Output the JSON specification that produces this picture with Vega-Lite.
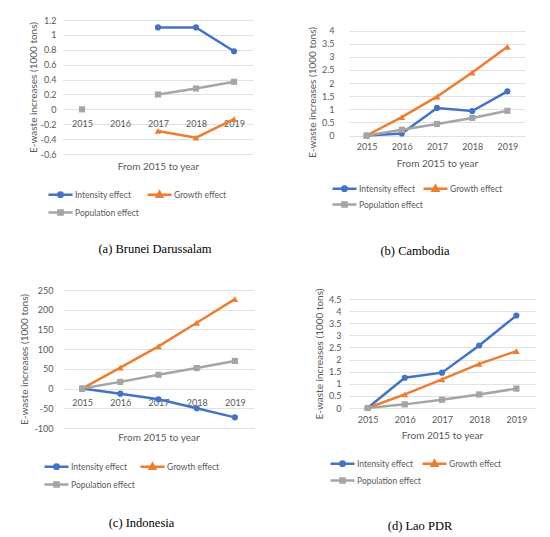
{
  "$schema": "https://vega.github.io/schema/vega-lite/v6.json",
  "padding": {"left": 19, "top": 16, "right": 4, "bottom": 4},
  "background": "white",
  "config": {
    "view": {"stroke": null},
    "font": "Lato",
    "axis": {"labelFont": "Lato", "labelFontSize": 9, "labelColor": "#595959", "titleFont": "Lato", "titleFontSize": 10, "titleColor": "#595959", "titleFontWeight": "normal", "gridColor": "#d9d9d9", "gridWidth": 0.8, "domain": false, "ticks": false},
    "axisX": {"labelAngle": 0, "labelPadding": 7, "grid": false},
    "legend": {"labelFont": "Lato", "labelFontSize": 8.5, "labelColor": "#595959", "orient": "none", "columns": 2, "symbolSize": 100, "symbolStrokeWidth": 2.5, "symbolOpacity": 1, "labelOffset": 8, "padding": 0},
    "title": {"font": "Liberation Serif", "fontSize": 12.5, "fontWeight": "normal", "color": "#000000"},
    "point": {"filled": true, "opacity": 1, "size": 38}
  },
  "data": {
    "values": [
      {"country": "Brunei", "series": "Intensity effect", "year": "2015", "value": null},
      {"country": "Brunei", "series": "Intensity effect", "year": "2016", "value": null},
      {"country": "Brunei", "series": "Intensity effect", "year": "2017", "value": 1.10},
      {"country": "Brunei", "series": "Intensity effect", "year": "2018", "value": 1.10},
      {"country": "Brunei", "series": "Intensity effect", "year": "2019", "value": 0.78},
      {"country": "Brunei", "series": "Growth effect", "year": "2015", "value": null},
      {"country": "Brunei", "series": "Growth effect", "year": "2016", "value": null},
      {"country": "Brunei", "series": "Growth effect", "year": "2017", "value": -0.29},
      {"country": "Brunei", "series": "Growth effect", "year": "2018", "value": -0.38},
      {"country": "Brunei", "series": "Growth effect", "year": "2019", "value": -0.13},
      {"country": "Brunei", "series": "Population effect", "year": "2015", "value": 0},
      {"country": "Brunei", "series": "Population effect", "year": "2016", "value": null},
      {"country": "Brunei", "series": "Population effect", "year": "2017", "value": 0.20},
      {"country": "Brunei", "series": "Population effect", "year": "2018", "value": 0.28},
      {"country": "Brunei", "series": "Population effect", "year": "2019", "value": 0.37},
      {"country": "Cambodia", "series": "Intensity effect", "year": "2015", "value": 0},
      {"country": "Cambodia", "series": "Intensity effect", "year": "2016", "value": 0.08},
      {"country": "Cambodia", "series": "Intensity effect", "year": "2017", "value": 1.05},
      {"country": "Cambodia", "series": "Intensity effect", "year": "2018", "value": 0.93},
      {"country": "Cambodia", "series": "Intensity effect", "year": "2019", "value": 1.68},
      {"country": "Cambodia", "series": "Growth effect", "year": "2015", "value": 0},
      {"country": "Cambodia", "series": "Growth effect", "year": "2016", "value": 0.70},
      {"country": "Cambodia", "series": "Growth effect", "year": "2017", "value": 1.48},
      {"country": "Cambodia", "series": "Growth effect", "year": "2018", "value": 2.40},
      {"country": "Cambodia", "series": "Growth effect", "year": "2019", "value": 3.38},
      {"country": "Cambodia", "series": "Population effect", "year": "2015", "value": 0},
      {"country": "Cambodia", "series": "Population effect", "year": "2016", "value": 0.22},
      {"country": "Cambodia", "series": "Population effect", "year": "2017", "value": 0.44},
      {"country": "Cambodia", "series": "Population effect", "year": "2018", "value": 0.67},
      {"country": "Cambodia", "series": "Population effect", "year": "2019", "value": 0.94},
      {"country": "Indonesia", "series": "Intensity effect", "year": "2015", "value": 0},
      {"country": "Indonesia", "series": "Intensity effect", "year": "2016", "value": -13},
      {"country": "Indonesia", "series": "Intensity effect", "year": "2017", "value": -27},
      {"country": "Indonesia", "series": "Intensity effect", "year": "2018", "value": -50},
      {"country": "Indonesia", "series": "Intensity effect", "year": "2019", "value": -73},
      {"country": "Indonesia", "series": "Growth effect", "year": "2015", "value": 0},
      {"country": "Indonesia", "series": "Growth effect", "year": "2016", "value": 53},
      {"country": "Indonesia", "series": "Growth effect", "year": "2017", "value": 107},
      {"country": "Indonesia", "series": "Growth effect", "year": "2018", "value": 167},
      {"country": "Indonesia", "series": "Growth effect", "year": "2019", "value": 227},
      {"country": "Indonesia", "series": "Population effect", "year": "2015", "value": 0},
      {"country": "Indonesia", "series": "Population effect", "year": "2016", "value": 17},
      {"country": "Indonesia", "series": "Population effect", "year": "2017", "value": 35},
      {"country": "Indonesia", "series": "Population effect", "year": "2018", "value": 52},
      {"country": "Indonesia", "series": "Population effect", "year": "2019", "value": 70},
      {"country": "Lao", "series": "Intensity effect", "year": "2015", "value": 0},
      {"country": "Lao", "series": "Intensity effect", "year": "2016", "value": 1.25},
      {"country": "Lao", "series": "Intensity effect", "year": "2017", "value": 1.46},
      {"country": "Lao", "series": "Intensity effect", "year": "2018", "value": 2.58},
      {"country": "Lao", "series": "Intensity effect", "year": "2019", "value": 3.82},
      {"country": "Lao", "series": "Growth effect", "year": "2015", "value": 0},
      {"country": "Lao", "series": "Growth effect", "year": "2016", "value": 0.56},
      {"country": "Lao", "series": "Growth effect", "year": "2017", "value": 1.18},
      {"country": "Lao", "series": "Growth effect", "year": "2018", "value": 1.82},
      {"country": "Lao", "series": "Growth effect", "year": "2019", "value": 2.35},
      {"country": "Lao", "series": "Population effect", "year": "2015", "value": 0},
      {"country": "Lao", "series": "Population effect", "year": "2016", "value": 0.15},
      {"country": "Lao", "series": "Population effect", "year": "2017", "value": 0.34},
      {"country": "Lao", "series": "Population effect", "year": "2018", "value": 0.56},
      {"country": "Lao", "series": "Population effect", "year": "2019", "value": 0.80}
    ]
  },
  "spacing": 53,
  "resolve": {"scale": {"color": "independent", "fill": "independent", "stroke": "independent", "shape": "independent"}, "legend": {"fill": "independent", "stroke": "independent", "shape": "independent"}},
  "hconcat": [
    {
      "spacing": 30,
      "resolve": {"scale": {"color": "independent", "fill": "independent", "stroke": "independent", "shape": "independent"}, "legend": {"fill": "independent", "stroke": "independent", "shape": "independent"}},
      "vconcat": [
        {
          "width": 190, "height": 134,
          "transform": [{"filter": "datum.country === 'Brunei'"}],
          "title": {"text": "(a) Brunei Darussalam", "orient": "bottom", "frame": "group", "dx": -3, "offset": 23},
          "encoding": {
            "x": {"field": "year", "type": "ordinal", "scale": {"type": "point", "padding": 0.5}, "axis": {"offset": -44.67, "labelPadding": 10.5, "title": "From 2015 to year", "titlePadding": 32.5}},
            "y": {"field": "value", "type": "quantitative", "scale": {"domain": [-0.6, 1.2], "nice": false, "zero": false}, "axis": {"values": [-0.6, -0.4, -0.2, 0, 0.2, 0.4, 0.6, 0.8, 1, 1.2], "labelExpr": "'' + datum.value", "title": "E-waste increases (1000 tons)", "titlePadding": 2, "labelPadding": 7}}
          },
          "layer": [
            {"mark": {"type": "line", "strokeWidth": 2.5, "invalid": "break-paths-show-domains"}, "encoding": {"color": {"field": "series", "type": "nominal", "scale": {"domain": ["Intensity effect", "Growth effect", "Population effect"], "range": ["#4472C4", "#ED7D31", "#A5A5A5"]}, "legend": null}}},
            {"transform": [{"filter": "datum.series === 'Intensity effect'"}], "mark": {"type": "point", "shape": "circle"}, "encoding": {"color": {"field": "series", "type": "nominal", "legend": null}}},
            {"transform": [{"filter": "datum.series === 'Growth effect'"}], "mark": {"type": "point", "shape": "triangle-up", "size": 45}, "encoding": {"color": {"field": "series", "type": "nominal", "legend": null}}},
            {"transform": [{"filter": "datum.series === 'Population effect'"}], "mark": {"type": "point", "shape": "square"}, "encoding": {"color": {"field": "series", "type": "nominal", "legend": null}}},
            {"mark": {"type": "point", "opacity": 0},
             "encoding": {
               "fill": {"field": "series", "type": "nominal", "scale": {"domain": ["Intensity effect", "Population effect", "Growth effect"], "range": ["#4472C4", "#A5A5A5", "#ED7D31"]}, "legend": {"title": null, "legendX": -9, "legendY": 168, "rowPadding": 3, "columnPadding": 3, "encode": {"symbols": {"update": {"opacity": {"value": 1}}}}}},
               "stroke": {"field": "series", "type": "nominal", "scale": {"domain": ["Intensity effect", "Population effect", "Growth effect"], "range": ["#4472C4", "#A5A5A5", "#ED7D31"]}, "legend": {"title": null, "legendX": -9, "legendY": 168, "rowPadding": 3, "columnPadding": 3}},
               "shape": {"field": "series", "type": "nominal", "scale": {"domain": ["Intensity effect", "Population effect", "Growth effect"], "range": ["M-2.4,0H2.4M0.44,0A0.44,0.44,0,1,1,-0.44,0A0.44,0.44,0,1,1,0.44,0Z", "M-2.4,0H2.4M-0.42,-0.42H0.42V0.42H-0.42Z", "M-2.4,0H2.4M0,-0.6L0.55,0.4L-0.55,0.4Z"]}, "legend": {"title": null, "legendX": -9, "legendY": 168, "rowPadding": 3, "columnPadding": 3}}
             }}
          ]
        },
        {
          "width": 191, "height": 138,
          "transform": [{"filter": "datum.country === 'Indonesia'"}],
          "title": {"text": "(c) Indonesia", "orient": "bottom", "frame": "group", "dx": -17, "offset": 25},
          "encoding": {
            "x": {"field": "year", "type": "ordinal", "scale": {"type": "point", "padding": 0.5}, "axis": {"offset": -39.43, "labelPadding": 10, "title": "From 2015 to year", "titlePadding": 25}},
            "y": {"field": "value", "type": "quantitative", "scale": {"domain": [-100, 250], "nice": false, "zero": false}, "axis": {"values": [-100, -50, 0, 50, 100, 150, 200, 250], "labelExpr": "'' + datum.value", "title": "E-waste increases (1000 tons)", "titlePadding": 4, "labelPadding": 10}}
          },
          "layer": [
            {"mark": {"type": "line", "strokeWidth": 2.5}, "encoding": {"color": {"field": "series", "type": "nominal", "scale": {"domain": ["Intensity effect", "Growth effect", "Population effect"], "range": ["#4472C4", "#ED7D31", "#A5A5A5"]}, "legend": null}}},
            {"transform": [{"filter": "datum.series === 'Intensity effect'"}], "mark": {"type": "point", "shape": "circle"}, "encoding": {"color": {"field": "series", "type": "nominal", "legend": null}}},
            {"transform": [{"filter": "datum.series === 'Growth effect'"}], "mark": {"type": "point", "shape": "triangle-up", "size": 45}, "encoding": {"color": {"field": "series", "type": "nominal", "legend": null}}},
            {"transform": [{"filter": "datum.series === 'Population effect'"}], "mark": {"type": "point", "shape": "square"}, "encoding": {"color": {"field": "series", "type": "nominal", "legend": null}}},
            {"mark": {"type": "point", "opacity": 0},
             "encoding": {
               "fill": {"field": "series", "type": "nominal", "scale": {"domain": ["Intensity effect", "Population effect", "Growth effect"], "range": ["#4472C4", "#A5A5A5", "#ED7D31"]}, "legend": {"title": null, "legendX": -13, "legendY": 170, "rowPadding": 3, "columnPadding": 0, "encode": {"symbols": {"update": {"opacity": {"value": 1}}}}}},
               "stroke": {"field": "series", "type": "nominal", "scale": {"domain": ["Intensity effect", "Population effect", "Growth effect"], "range": ["#4472C4", "#A5A5A5", "#ED7D31"]}, "legend": {"title": null, "legendX": -13, "legendY": 170, "rowPadding": 3, "columnPadding": 0}},
               "shape": {"field": "series", "type": "nominal", "scale": {"domain": ["Intensity effect", "Population effect", "Growth effect"], "range": ["M-2.4,0H2.4M0.44,0A0.44,0.44,0,1,1,-0.44,0A0.44,0.44,0,1,1,0.44,0Z", "M-2.4,0H2.4M-0.42,-0.42H0.42V0.42H-0.42Z", "M-2.4,0H2.4M0,-0.6L0.55,0.4L-0.55,0.4Z"]}, "legend": {"title": null, "legendX": -13, "legendY": 170, "rowPadding": 3, "columnPadding": 0}}
             }}
          ]
        }
      ]
    },
    {
      "spacing": 30,
      "resolve": {"scale": {"color": "independent", "fill": "independent", "stroke": "independent", "shape": "independent"}, "legend": {"fill": "independent", "stroke": "independent", "shape": "independent"}},
      "vconcat": [
        {
          "width": 176, "height": 115.5,
          "transform": [{"filter": "datum.country === 'Cambodia'"}],
          "title": {"text": "(b) Cambodia", "orient": "bottom", "frame": "group", "dx": -22, "offset": 33},
          "encoding": {
            "x": {"field": "year", "type": "ordinal", "scale": {"type": "point", "padding": 0.5}, "axis": {"title": "From 2015 to year", "titlePadding": 7}},
            "y": {"field": "value", "type": "quantitative", "scale": {"domain": [0, 4.4], "nice": false}, "axis": {"values": [0, 0.5, 1, 1.5, 2, 2.5, 3, 3.5, 4], "labelExpr": "'' + datum.value", "title": "E-waste increases (1000 tons)", "titleY": 72, "titlePadding": 4, "labelPadding": 15}}
          },
          "layer": [
            {"mark": {"type": "line", "strokeWidth": 2.5}, "encoding": {"color": {"field": "series", "type": "nominal", "scale": {"domain": ["Intensity effect", "Growth effect", "Population effect"], "range": ["#4472C4", "#ED7D31", "#A5A5A5"]}, "legend": null}}},
            {"transform": [{"filter": "datum.series === 'Intensity effect'"}], "mark": {"type": "point", "shape": "circle"}, "encoding": {"color": {"field": "series", "type": "nominal", "legend": null}}},
            {"transform": [{"filter": "datum.series === 'Growth effect'"}], "mark": {"type": "point", "shape": "triangle-up", "size": 45}, "encoding": {"color": {"field": "series", "type": "nominal", "legend": null}}},
            {"transform": [{"filter": "datum.series === 'Population effect'"}], "mark": {"type": "point", "shape": "square"}, "encoding": {"color": {"field": "series", "type": "nominal", "legend": null}}},
            {"mark": {"type": "point", "opacity": 0},
             "encoding": {
               "fill": {"field": "series", "type": "nominal", "scale": {"domain": ["Intensity effect", "Population effect", "Growth effect"], "range": ["#4472C4", "#A5A5A5", "#ED7D31"]}, "legend": {"title": null, "legendX": -11, "legendY": 162, "rowPadding": 1, "columnPadding": -5, "encode": {"symbols": {"update": {"opacity": {"value": 1}}}}}},
               "stroke": {"field": "series", "type": "nominal", "scale": {"domain": ["Intensity effect", "Population effect", "Growth effect"], "range": ["#4472C4", "#A5A5A5", "#ED7D31"]}, "legend": {"title": null, "legendX": -11, "legendY": 162, "rowPadding": 1, "columnPadding": -5}},
               "shape": {"field": "series", "type": "nominal", "scale": {"domain": ["Intensity effect", "Population effect", "Growth effect"], "range": ["M-2.4,0H2.4M0.44,0A0.44,0.44,0,1,1,-0.44,0A0.44,0.44,0,1,1,0.44,0Z", "M-2.4,0H2.4M-0.42,-0.42H0.42V0.42H-0.42Z", "M-2.4,0H2.4M0,-0.6L0.55,0.4L-0.55,0.4Z"]}, "legend": {"title": null, "legendX": -11, "legendY": 162, "rowPadding": 1, "columnPadding": -5}}
             }}
          ]
        },
        {
          "width": 186, "height": 109,
          "transform": [{"filter": "datum.country === 'Lao'"}],
          "title": {"text": "(d) Lao PDR", "orient": "bottom", "frame": "group", "dx": -22, "offset": 32},
          "encoding": {
            "x": {"field": "year", "type": "ordinal", "scale": {"type": "point", "padding": 0.5}, "axis": {"title": "From 2015 to year", "titlePadding": 6}},
            "y": {"field": "value", "type": "quantitative", "scale": {"domain": [0, 4.5], "nice": false}, "axis": {"values": [0, 0.5, 1, 1.5, 2, 2.5, 3, 3.5, 4, 4.5], "labelExpr": "'' + datum.value", "title": "E-waste increases (1000 tons)", "titlePadding": 4, "labelPadding": 8}}
          },
          "layer": [
            {"mark": {"type": "line", "strokeWidth": 2.5}, "encoding": {"color": {"field": "series", "type": "nominal", "scale": {"domain": ["Intensity effect", "Growth effect", "Population effect"], "range": ["#4472C4", "#ED7D31", "#A5A5A5"]}, "legend": null}}},
            {"transform": [{"filter": "datum.series === 'Intensity effect'"}], "mark": {"type": "point", "shape": "circle"}, "encoding": {"color": {"field": "series", "type": "nominal", "legend": null}}},
            {"transform": [{"filter": "datum.series === 'Growth effect'"}], "mark": {"type": "point", "shape": "triangle-up", "size": 45}, "encoding": {"color": {"field": "series", "type": "nominal", "legend": null}}},
            {"transform": [{"filter": "datum.series === 'Population effect'"}], "mark": {"type": "point", "shape": "square"}, "encoding": {"color": {"field": "series", "type": "nominal", "legend": null}}},
            {"mark": {"type": "point", "opacity": 0},
             "encoding": {
               "fill": {"field": "series", "type": "nominal", "scale": {"domain": ["Intensity effect", "Population effect", "Growth effect"], "range": ["#4472C4", "#A5A5A5", "#ED7D31"]}, "legend": {"title": null, "legendX": -13, "legendY": 158, "rowPadding": 2, "columnPadding": -4, "encode": {"symbols": {"update": {"opacity": {"value": 1}}}}}},
               "stroke": {"field": "series", "type": "nominal", "scale": {"domain": ["Intensity effect", "Population effect", "Growth effect"], "range": ["#4472C4", "#A5A5A5", "#ED7D31"]}, "legend": {"title": null, "legendX": -13, "legendY": 158, "rowPadding": 2, "columnPadding": -4}},
               "shape": {"field": "series", "type": "nominal", "scale": {"domain": ["Intensity effect", "Population effect", "Growth effect"], "range": ["M-2.4,0H2.4M0.44,0A0.44,0.44,0,1,1,-0.44,0A0.44,0.44,0,1,1,0.44,0Z", "M-2.4,0H2.4M-0.42,-0.42H0.42V0.42H-0.42Z", "M-2.4,0H2.4M0,-0.6L0.55,0.4L-0.55,0.4Z"]}, "legend": {"title": null, "legendX": -13, "legendY": 158, "rowPadding": 2, "columnPadding": -4}}
             }}
          ]
        }
      ]
    }
  ]
}
